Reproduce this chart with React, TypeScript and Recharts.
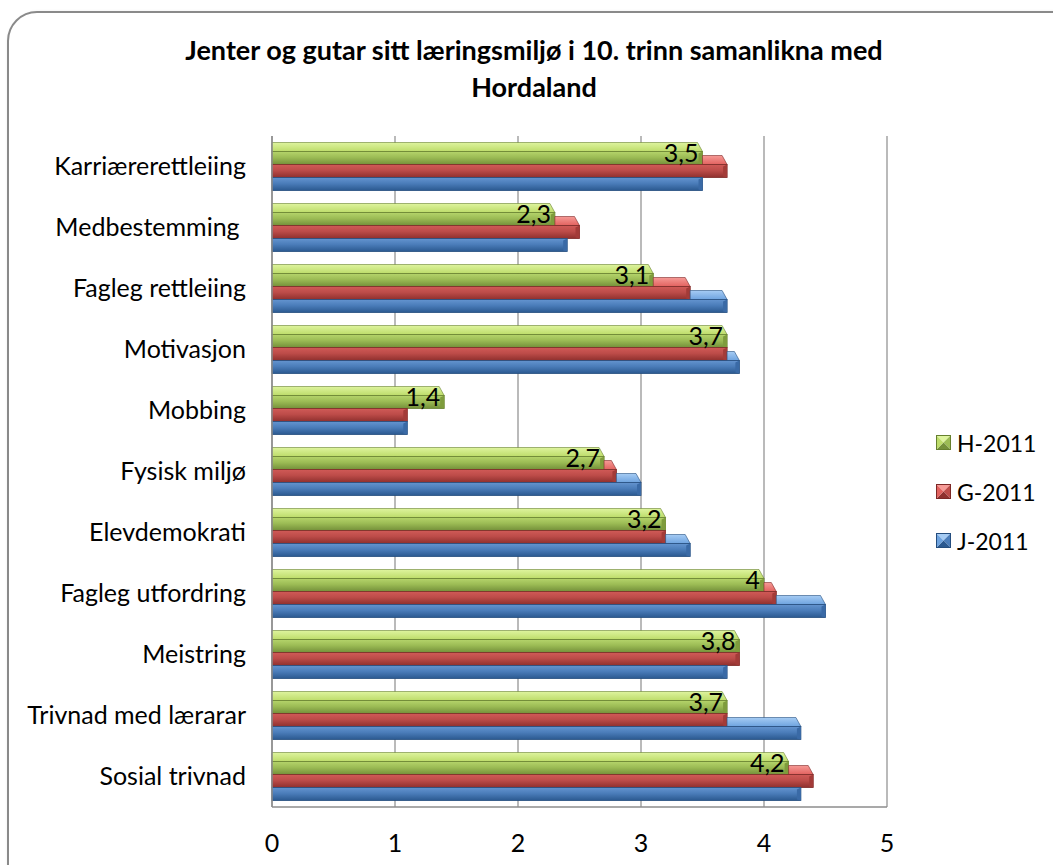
import React from 'react'
import {
  Bar,
  BarChart,
  CartesianGrid,
  LabelList,
  XAxis,
  YAxis,
} from 'recharts'

const categories = [
  'Karriærerettleiing',
  'Medbestemming\u00a0',
  'Fagleg rettleiing',
  'Motivasjon',
  'Mobbing',
  'Fysisk miljø',
  'Elevdemokrati',
  'Fagleg utfordring',
  'Meistring',
  'Trivnad med lærarar',
  'Sosial trivnad',
]
const h2011 = [3.5, 2.3, 3.1, 3.7, 1.4, 2.7, 3.2, 4, 3.8, 3.7, 4.2]
const g2011 = [3.7, 2.5, 3.4, 3.7, 1.1, 2.8, 3.2, 4.1, 3.8, 3.7, 4.4]
const j2011 = [3.5, 2.4, 3.7, 3.8, 1.1, 3.0, 3.4, 4.5, 3.7, 4.3, 4.3]
const xTicks = [0, 1, 2, 3, 4, 5]

const seriesInfo = [
  { key: 'h', name: 'H-2011', upper: null, id: 'green' },
  { key: 'g', name: 'G-2011', upper: 'h', id: 'red' },
  { key: 'j', name: 'J-2011', upper: 'g', id: 'blue' },
]

const palette: Record<string, { top: string[]; front: string[]; edge: string; end: string }> = {
  green: { top: ['#def49e', '#bddc6a'], front: ['#b5d46b', '#9cbc55', '#74903a'], edge: '#66802f', end: '#7e9c3c' },
  red: { top: ['#f69a96', '#e2625f'], front: ['#d05a57', '#bd4c49', '#8f302e'], edge: '#7c2826', end: '#a33b38' },
  blue: { top: ['#a6ccf4', '#6ea3df'], front: ['#6494cf', '#4b7dba', '#2b5990'], edge: '#244d7e', end: '#3a6aa6' },
}

const data = categories.map((name, i) => ({
  name,
  h: h2011[i],
  g: g2011[i],
  j: j2011[i],
}))

const FONT = 'Lato, "Open Sans", sans-serif'
const DEPTH = 9

function make3DBar(id: string, dataKey: string, upperKey: string | null) {
  return (props: any) => {
    const { x, y, width, height, payload } = props
    if (!width || width <= 0) return <g />
    const val = payload[dataKey]
    const ys = y + DEPTH / 2
    const right = x + width
    let x0 = x
    if (upperKey) {
      x0 = x + width * (payload[upperKey] / val)
    }
    const c = palette[id]
    return (
      <g>
        {x0 < right - 1 && (
          <polygon
            points={`${x0},${ys - DEPTH} ${right - 5},${ys - DEPTH} ${right},${ys} ${x0},${ys}`}
            fill={`url(#top-${id})`}
            stroke={c.edge}
            strokeWidth={0.6}
          />
        )}
        <rect x={x} y={ys} width={width} height={height} fill={`url(#front-${id})`} stroke={c.edge} strokeWidth={0.8} />
        <polygon
          points={`${right - 4},${ys + 2} ${right},${ys} ${right},${ys + height} ${right - 4},${ys + height - 1}`}
          fill={c.end}
        />
      </g>
    )
  }
}

function LegendMarker({ id }: { id: string }) {
  const c = palette[id]
  return (
    <svg width={15} height={15} style={{ display: 'block' }}>
      <polygon points="0,0 15,0 7.5,7.5" fill={c.top[0]} />
      <polygon points="15,0 15,15 7.5,7.5" fill={c.front[1]} />
      <polygon points="0,15 15,15 7.5,7.5" fill={c.front[2]} />
      <polygon points="0,0 0,15 7.5,7.5" fill={c.top[1]} />
      <rect x={0.5} y={0.5} width={14} height={14} fill="none" stroke={c.edge} strokeWidth={1} />
    </svg>
  )
}

export default function App() {
  return (
    <div style={{ position: 'absolute', left: 0, top: 0, width: 1053, height: 865, overflow: 'hidden', background: '#fff' }}>
      <div
        style={{
          position: 'absolute',
          left: 7,
          top: 11,
          width: 1080,
          height: 900,
          border: '2px solid #8a8a8a',
          borderRadius: 30,
          boxShadow: '3px 3px 5px rgba(0,0,0,0.3)',
          background: '#fff',
        }}
      />
      <div
        style={{
          position: 'absolute',
          left: 0,
          top: 31,
          width: 1068,
          textAlign: 'center',
          fontFamily: FONT,
          fontWeight: 700,
          fontSize: 27,
          lineHeight: '37px',
          color: '#000',
        }}
      >
        Jenter og gutar sitt læringsmiljø i 10. trinn samanlikna med
        <br />
        Hordaland
      </div>
      <div style={{ position: 'absolute', left: 0, top: 0 }}>
        <BarChart
          width={1053}
          height={865}
          data={data}
          layout="vertical"
          margin={{ top: 136, right: 166, bottom: 18, left: 12 }}
          barSize={13}
          barGap={0}
        >
          <defs>
            {Object.keys(palette).map((id) => (
              <React.Fragment key={id}>
                <linearGradient id={`front-${id}`} x1="0" y1="0" x2="0" y2="1">
                  <stop offset="0%" stopColor={palette[id].front[0]} />
                  <stop offset="45%" stopColor={palette[id].front[1]} />
                  <stop offset="100%" stopColor={palette[id].front[2]} />
                </linearGradient>
                <linearGradient id={`top-${id}`} x1="0" y1="0" x2="0" y2="1">
                  <stop offset="0%" stopColor={palette[id].top[0]} />
                  <stop offset="100%" stopColor={palette[id].top[1]} />
                </linearGradient>
              </React.Fragment>
            ))}
          </defs>
          <CartesianGrid horizontal={false} vertical stroke="#8c8c8c" strokeWidth={1.2} />
          <XAxis
            type="number"
            domain={[0, 5]}
            ticks={xTicks}
            tickSize={0}
            tickMargin={27}
            height={40}
            axisLine={{ stroke: '#8c8c8c', strokeWidth: 1.5 }}
            tick={{ fontSize: 25, fill: '#000', fontFamily: FONT }}
          />
          <YAxis
            type="category"
            dataKey="name"
            width={260}
            tickSize={0}
            tickMargin={26}
            axisLine={{ stroke: '#8c8c8c', strokeWidth: 1.5 }}
            interval={0}
            tick={{ fontSize: 25, fill: '#000', fontFamily: FONT }}
          />
          {seriesInfo.map((s) => (
            <Bar
              key={s.key}
              dataKey={s.key}
              name={s.name}
              isAnimationActive={false}
              shape={make3DBar(s.id, s.key, s.upper)}
            >
              {s.key === 'h' && (
                <LabelList
                  dataKey="h"
                  position="insideRight"
                  offset={4}
                  formatter={(v: any) => String(v).replace('.', ',')}
                  style={{ fontSize: 25, fill: '#000', fontFamily: FONT }}
                />
              )}
            </Bar>
          ))}
        </BarChart>
      </div>
      <div style={{ position: 'absolute', left: 936, top: 418, fontFamily: FONT, fontSize: 23, color: '#000' }}>
        {seriesInfo.map((s) => (
          <div key={s.key} style={{ display: 'flex', alignItems: 'center', height: 49 }}>
            <LegendMarker id={s.id} />
            <span style={{ marginLeft: 6 }}>{s.name}</span>
          </div>
        ))}
      </div>
    </div>
  )
}
